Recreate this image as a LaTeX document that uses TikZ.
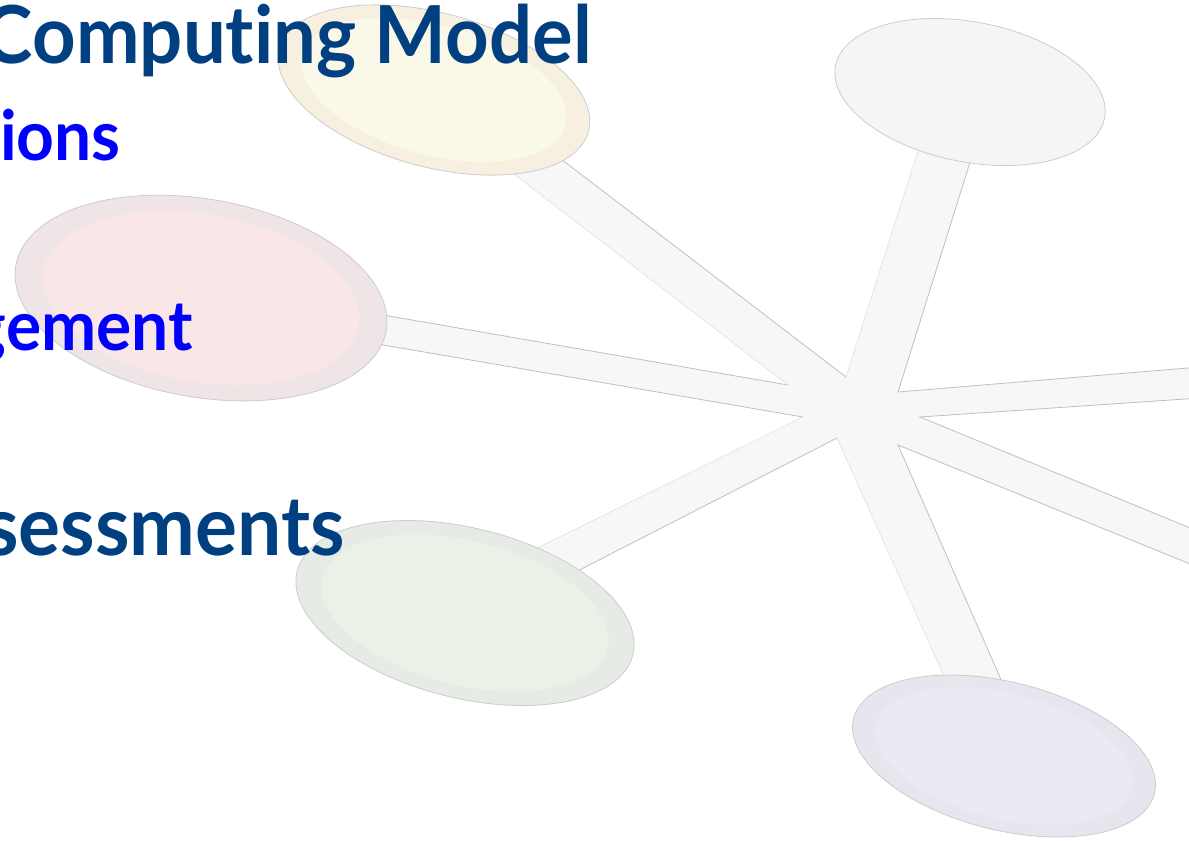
\documentclass[tikz,border=0pt]{standalone}
\usepackage{fontspec}
\setmainfont{Lato}[BoldFont={* Bold}, FakeStretch=0.95, Ligatures=NoCommon]

\definecolor{titleblue}{RGB}{0,64,128}
\definecolor{itemblue}{RGB}{0,0,255}
\definecolor{spokegray}{HTML}{F7F7F7}
\definecolor{yellowring}{HTML}{F7F0E0}
\definecolor{yellowcore}{HTML}{FAF8E8}
\definecolor{pinkring}{HTML}{EFE5E6}
\definecolor{pinkcore}{HTML}{F9E6E6}
\definecolor{greenring}{HTML}{E6EBE6}
\definecolor{greencore}{HTML}{EBF1E7}
\definecolor{lavring}{HTML}{E6E6EE}
\definecolor{lavcore}{HTML}{EAEAF3}
\definecolor{grayring}{HTML}{F5F5F5}

\begin{document}
\begin{tikzpicture}[x=0.75pt, y=-0.75pt,
  edge/.style={draw=gray!50, line width=0.6pt},
  fedge/.style={draw=gray!20, line width=0.6pt},
  petal/.style={draw=gray!40, line width=0.6pt},
  head/.style={font=\bfseries\fontsize{60}{72}\selectfont, text=titleblue, anchor=base east, inner sep=0pt},
  item/.style={font=\bfseries\fontsize{52}{62}\selectfont, text=itemblue, anchor=base east, inner sep=0pt}]
\clip (0,0) rectangle (1189,840);

% star of spokes
\fill[spokegray] (531,136) -- (846,377) -- (929,116) -- (977,140) -- (898,392) -- (1200,367)
  -- (1200,398) -- (920,417) -- (1200,532) -- (1200,568) -- (898,445) -- (1010,700)
  -- (953,696) -- (837,438) -- (558,581) -- (517,558) -- (803,417) -- (360,341)
  -- (360,311) -- (788,385) -- (488,154) -- cycle;
\draw[edge] (531,136) -- (846,377);
\draw[fedge] (846,377) -- (929,116);
\draw[edge] (977,140) -- (898,392) -- (1200,367);
\draw[edge] (1200,398) -- (920,417) -- (1200,532);
\draw[edge] (1200,568) -- (898,445) -- (1010,700);
\draw[fedge] (953,696) -- (837,438);
\draw[edge] (837,438) -- (558,581);
\draw[fedge] (517,558) -- (803,417);
\draw[edge] (803,417) -- (360,341);
\draw[edge] (360,311) -- (788,385);
\draw[fedge] (788,385) -- (488,154);

% ellipses at the spoke ends
\coordinate (yel) at (434,90);
\coordinate (gry) at (970,92);
\coordinate (pnk) at (201,298);
\coordinate (grn) at (465,613);
\coordinate (lav) at (1004,756);
\draw[petal, fill=yellowring, rotate around={-15:(yel)}] (yel) ellipse (160 and 77);
\fill[yellowcore, rotate around={-15:(yel)}] (yel) ellipse (136 and 65);
\draw[petal, fill=grayring, rotate around={-11:(gry)}] (gry) ellipse (137 and 70);
\draw[petal, fill=pinkring, rotate around={-10:(pnk)}] (pnk) ellipse (188 and 99);
\fill[pinkcore, rotate around={-10:(pnk)}] (pnk) ellipse (160 and 84);
\draw[petal, fill=greenring, rotate around={-14:(grn)}] (grn) ellipse (173 and 85);
\fill[greencore, rotate around={-14:(grn)}] (grn) ellipse (147 and 72);
\draw[petal, fill=lavring, rotate around={-14:(lav)}] (lav) ellipse (155 and 74);
\fill[lavcore, rotate around={-14:(lav)}] (lav) ellipse (132 and 63);

% slide text
\node[head] (title) at (592,63) {Computing Model};
\node[item] (opr) at (121,160) {tions};
\node[item] (mgt) at (193,350) {gement};
\node[head, font=\bfseries\fontsize{62}{74}\selectfont] (ass) at (345,555) {sessments};
\end{tikzpicture}
\end{document}
